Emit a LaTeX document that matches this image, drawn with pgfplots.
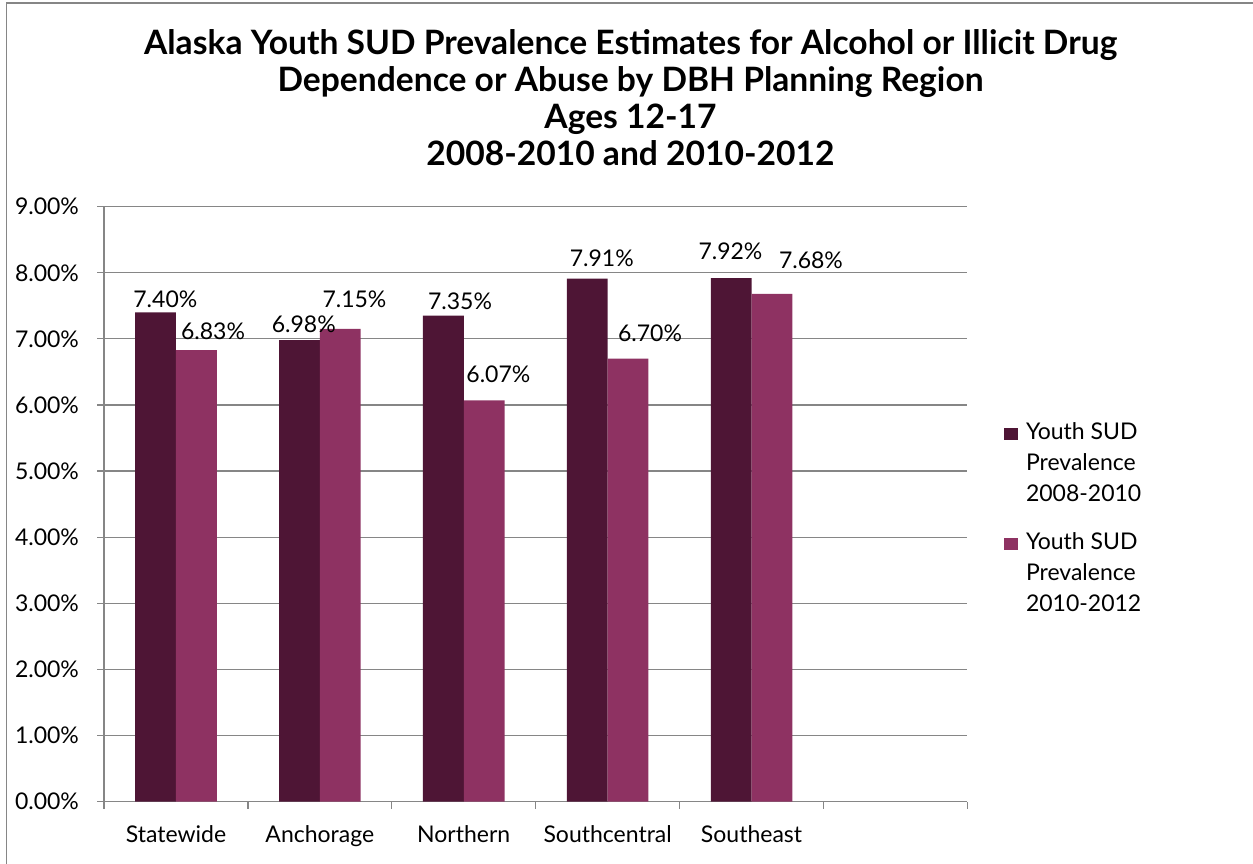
\documentclass[border=0pt]{standalone}
\usepackage{fontspec}
\setmainfont{Lato}
\usepackage{pgfplots}
\pgfplotsset{compat=1.18}
\usepackage{pgfplotstable}
\definecolor{darkbar}{HTML}{4E1535}
\definecolor{lightbar}{HTML}{8E3262}
\definecolor{axgray}{HTML}{868686}
\pgfplotsset{/pgf/number format/assume math mode=true}

\pgfplotstableread{
x y dx dy
0 7.40 4.9 2.65
1 6.98 2.15 3.65
2 7.35 8.35 3.35
3 7.91 7.25 6.35
4 7.92 -0.35 9.5
}\first
\pgfplotstableread{
x y dx dy
0 6.83 8.35 5.5
1 7.15 7.1 10.85
2 6.07 7.1 8.85
3 6.70 11 8.85
4 7.68 19.5 12.5
}\second

\newcommand{\lblfont}{\fontsize{11.5}{15.5}\selectfont}
\newcommand{\ttlfont}{\fontsize{16.8}{18}\selectfont\bfseries}

\begin{document}
\begin{tikzpicture}
\useasboundingbox (0,0) rectangle (626.5pt,431.5pt);
\draw[axgray, line width=0.6pt] (3.35pt,-2pt) -- (3.35pt,430pt) -- (640pt,430pt);

\node[anchor=base, font=\ttlfont] at (315.25pt,404.35pt) {Alaska Youth SUD Prevalence Estimates for Alcohol or Illicit Drug};
\node[anchor=base, font=\ttlfont] at (315.25pt,385.65pt) {Dependence or Abuse by DBH Planning Region};
\node[anchor=base, font=\ttlfont] at (315.25pt,367.1pt) {Ages 12-17};
\node[anchor=base, font=\ttlfont] at (315.25pt,348.65pt) {2008-2010 and 2010-2012};

\begin{axis}[
  at={(52pt,30.75pt)}, anchor=south west,
  scale only axis, width=431.7pt, height=297.4pt,
  xmin=-0.5, xmax=5.5, ymin=0, ymax=9,
  ybar=0pt, bar width=20.4pt,
  axis x line*=bottom, axis y line*=left,
  axis line style={axgray, line width=0.6pt},
  ytick={0,...,9},
  ymajorgrids, grid style={axgray, line width=0.6pt},
  yticklabel={\pgfmathprintnumber[fixed,fixed zerofill,precision=2]{\tick}\%},
  yticklabel style={anchor=east, inner sep=0pt, xshift=-8.85pt},
  xtick={0,...,4},
  xticklabels={Statewide,Anchorage,Northern,Southcentral,Southeast},
  xticklabel style={anchor=base, inner sep=0pt, yshift=-17pt},
  minor xtick={-0.5,0.5,...,5.5},
  major x tick style={draw=none},
  minor x tick style={draw=axgray, line width=0.6pt},
  y tick style={draw=axgray, line width=0.6pt},
  tick align=outside, major tick length=3.5pt, minor tick length=3.5pt,
  tick label style={font=\lblfont, text=black},
  legend style={at={(1.0424,0.638)}, anchor=north west, draw=none, fill=none,
    inner sep=0pt, column sep=4pt, row sep=14pt, font=\lblfont,
    nodes={align=left, inner sep=0pt}},
  legend cell align=left,
  nodes near coords={\pgfmathprintnumber[fixed,fixed zerofill,precision=2]{\pgfplotspointmeta}\%},
  visualization depends on={\thisrow{dx} \as \ldx},
  visualization depends on={\thisrow{dy} \as \ldy},
  every node near coord/.append style={anchor=base, inner sep=0pt, xshift=\ldx pt, yshift=\ldy pt, font=\lblfont, text=black},
]
\addplot[fill=darkbar, draw=none, legend image code/.code={\fill[darkbar] (0pt,11.5pt) rectangle (6.8pt,17.7pt);}] table[x=x,y=y]{\first};
\addlegendentry{Youth SUD\\Prevalence\\2008-2010}
\addplot[fill=lightbar, draw=none, legend image code/.code={\fill[lightbar] (0pt,11.5pt) rectangle (6.8pt,17.7pt);}] table[x=x,y=y]{\second};
\addlegendentry{Youth SUD\\Prevalence\\2010-2012}
\end{axis}
\end{tikzpicture}
\end{document}
